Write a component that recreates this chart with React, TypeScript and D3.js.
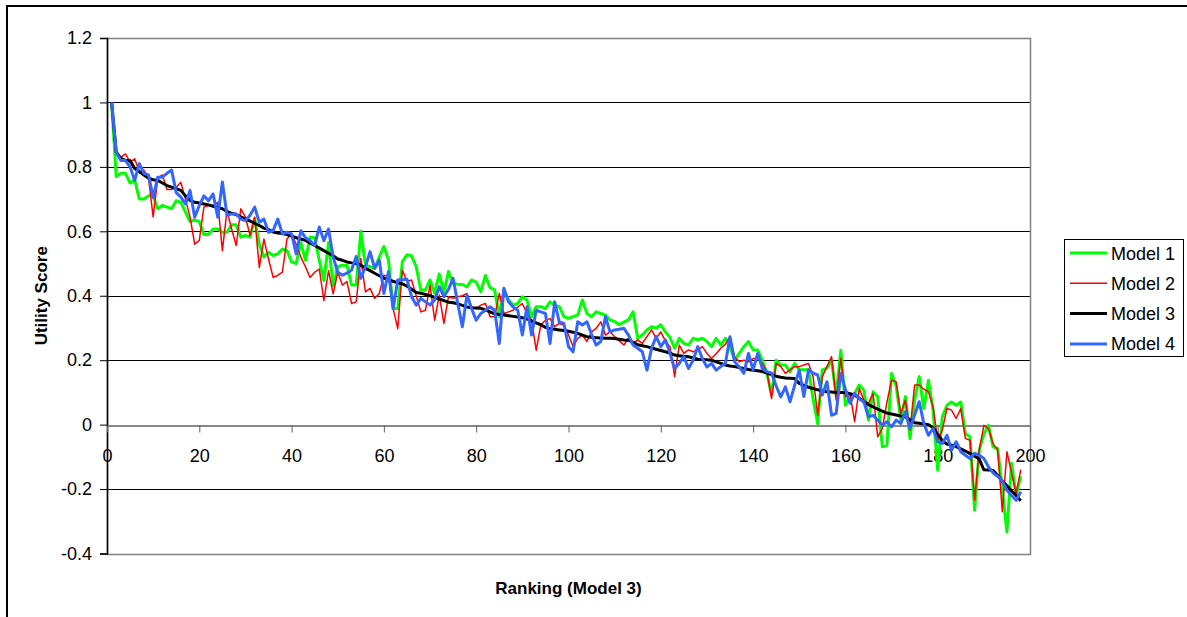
import React, { useEffect, useRef } from "react";
import * as d3 from "d3";

// rank 1..198, series
const model1 = [
  1.0, 0.77, 0.78, 0.78, 0.75, 0.76, 0.7, 0.7, 0.71, 0.71,
  0.67, 0.68, 0.675, 0.67, 0.695, 0.69, 0.66, 0.63, 0.635, 0.63,
  0.59, 0.59, 0.607, 0.607, 0.597, 0.597, 0.62, 0.62, 0.582, 0.587,
  0.582, 0.64, 0.56, 0.52, 0.535, 0.525, 0.53, 0.545, 0.54, 0.505,
  0.5, 0.565, 0.51, 0.582, 0.58, 0.51, 0.447, 0.565, 0.43, 0.49,
  0.495, 0.495, 0.433, 0.433, 0.6, 0.495, 0.49, 0.485, 0.52, 0.553,
  0.511, 0.36, 0.36, 0.506, 0.527, 0.524, 0.49, 0.418, 0.418, 0.449,
  0.408, 0.468, 0.41, 0.475, 0.438, 0.436, 0.435, 0.428, 0.449, 0.442,
  0.413, 0.463, 0.425, 0.418, 0.335, 0.418, 0.387, 0.371, 0.376, 0.397,
  0.387, 0.335, 0.366, 0.366, 0.36, 0.381, 0.37, 0.366, 0.335, 0.33,
  0.335, 0.34, 0.387, 0.345, 0.335, 0.35, 0.345, 0.34, 0.325, 0.32,
  0.31, 0.318, 0.325, 0.35, 0.268, 0.278, 0.294, 0.304, 0.299, 0.31,
  0.288, 0.27, 0.237, 0.268, 0.252, 0.247, 0.268, 0.263, 0.268, 0.258,
  0.242, 0.268, 0.247, 0.268, 0.24, 0.2, 0.221, 0.242, 0.258, 0.232,
  0.232, 0.2, 0.159, 0.092, 0.2, 0.185, 0.185, 0.164, 0.19, 0.17,
  0.17, 0.17, 0.08, 0.003, 0.17, 0.175, 0.2, 0.09, 0.231, 0.06,
  0.087, 0.097, 0.123, 0.107, 0.014, 0.102, 0.087, -0.069, -0.064, 0.159,
  0.12, 0.014, 0.087, -0.043, 0.076, 0.149, 0.05, 0.138, 0.045, -0.141,
  0.024, 0.06, 0.07, 0.06, 0.07, -0.028, -0.038, -0.266, -0.079, -0.03,
  -0.002, -0.069, -0.074, -0.2, -0.333, -0.12, -0.22, -0.16,
];

const model2 = [
  1.0, 0.84, 0.83, 0.84, 0.815, 0.825, 0.785, 0.79, 0.765, 0.645,
  0.765, 0.775, 0.73, 0.73, 0.737, 0.752, 0.7, 0.644, 0.56, 0.572,
  0.675, 0.68, 0.68, 0.69, 0.54, 0.665, 0.607, 0.556, 0.67, 0.644,
  0.587, 0.644, 0.488, 0.576, 0.514, 0.457, 0.463, 0.473, 0.576, 0.592,
  0.56, 0.52, 0.49, 0.457, 0.473, 0.483, 0.385, 0.478, 0.406, 0.473,
  0.433, 0.444, 0.376, 0.381, 0.516, 0.412, 0.423, 0.392, 0.407, 0.464,
  0.459, 0.36, 0.298, 0.48, 0.444, 0.449, 0.4, 0.35, 0.355, 0.433,
  0.324, 0.402, 0.314, 0.397, 0.392, 0.397, 0.4, 0.407, 0.366, 0.36,
  0.371, 0.376, 0.335, 0.335, 0.407, 0.345, 0.35, 0.355, 0.365, 0.376,
  0.345, 0.324, 0.231, 0.309, 0.324, 0.329, 0.304, 0.314, 0.309, 0.278,
  0.242, 0.268, 0.278, 0.258, 0.288, 0.299, 0.319, 0.278, 0.288, 0.273,
  0.26, 0.247, 0.268, 0.252, 0.263, 0.252, 0.273, 0.294, 0.268, 0.288,
  0.26, 0.242, 0.149, 0.247, 0.221, 0.232, 0.226, 0.232, 0.242, 0.221,
  0.205, 0.22, 0.237, 0.25, 0.273, 0.21, 0.195, 0.2, 0.195, 0.205,
  0.205, 0.19, 0.164, 0.081, 0.19, 0.18, 0.159, 0.17, 0.18, 0.18,
  0.185, 0.19, 0.149, 0.029, 0.149, 0.18, 0.211, 0.076, 0.206, 0.087,
  0.097, 0.009, 0.112, 0.076, 0.066, 0.097, -0.038, -0.012, 0.07, 0.138,
  0.133, 0.035, 0.076, -0.017, 0.123, 0.123, 0.11, 0.102, 0.055, -0.048,
  -0.017, 0.05, 0.045, 0.019, 0.05, -0.043, -0.048, -0.235, -0.079, -0.002,
  -0.012, -0.059, -0.079, -0.27, -0.084, -0.15, -0.214, -0.14,
];

const model3 = [
  1.0, 0.846, 0.826, 0.82, 0.82, 0.795, 0.785, 0.775, 0.765, 0.76,
  0.758, 0.75, 0.742, 0.737, 0.732, 0.727, 0.71, 0.696, 0.69, 0.688,
  0.685, 0.682, 0.678, 0.674, 0.67, 0.662, 0.656, 0.652, 0.645, 0.638,
  0.632, 0.625, 0.618, 0.61, 0.605, 0.598, 0.595, 0.593, 0.59, 0.585,
  0.58, 0.576, 0.572, 0.564, 0.556, 0.548, 0.54, 0.532, 0.524, 0.514,
  0.51, 0.505, 0.502, 0.5, 0.495, 0.485, 0.478, 0.47, 0.462, 0.455,
  0.449, 0.445, 0.44, 0.437, 0.43, 0.42, 0.41, 0.408, 0.404, 0.4,
  0.395, 0.39, 0.385, 0.38, 0.378, 0.375, 0.37, 0.365, 0.363, 0.362,
  0.361, 0.356, 0.35, 0.344, 0.342, 0.34, 0.338, 0.336, 0.334, 0.332,
  0.328, 0.322, 0.316, 0.31, 0.302, 0.298, 0.296, 0.294, 0.292, 0.29,
  0.287, 0.283, 0.278, 0.273, 0.271, 0.27, 0.269, 0.268, 0.268, 0.267,
  0.265, 0.263, 0.262, 0.255, 0.248, 0.245, 0.242, 0.238, 0.234, 0.23,
  0.226, 0.222, 0.216, 0.214, 0.212, 0.211, 0.207, 0.203, 0.202, 0.201,
  0.2, 0.195, 0.19, 0.185, 0.182, 0.18, 0.177, 0.174, 0.171, 0.169,
  0.167, 0.165, 0.16, 0.155, 0.15, 0.147, 0.145, 0.144, 0.143, 0.128,
  0.122, 0.116, 0.112, 0.108, 0.105, 0.102, 0.101, 0.1, 0.1, 0.1,
  0.096, 0.092, 0.082, 0.071, 0.062, 0.055, 0.048, 0.042, 0.036, 0.033,
  0.03, 0.027, 0.024, 0.015, 0.006, 0.004, 0.002, 0.0, -0.01, -0.03,
  -0.05, -0.06, -0.064, -0.068, -0.075, -0.082, -0.09, -0.098, -0.107, -0.14,
  -0.141, -0.142, -0.158, -0.175, -0.19, -0.205, -0.22, -0.236,
];

const model4 = [
  1.0, 0.845, 0.82, 0.82, 0.8, 0.758, 0.81, 0.78, 0.775, 0.705,
  0.768, 0.768, 0.78, 0.79, 0.72, 0.706, 0.685, 0.727, 0.644, 0.68,
  0.71, 0.695, 0.716, 0.644, 0.753, 0.65, 0.654, 0.654, 0.638, 0.633,
  0.65, 0.675, 0.628, 0.638, 0.597, 0.602, 0.638, 0.592, 0.597, 0.592,
  0.53, 0.602, 0.58, 0.571, 0.556, 0.613, 0.571, 0.607, 0.52, 0.473,
  0.464, 0.47, 0.48, 0.522, 0.454, 0.49, 0.537, 0.485, 0.511, 0.407,
  0.475, 0.36, 0.449, 0.45, 0.451, 0.397, 0.371, 0.392, 0.381, 0.371,
  0.387, 0.428, 0.397, 0.42, 0.454, 0.376, 0.304, 0.402, 0.36, 0.324,
  0.345, 0.355, 0.366, 0.355, 0.252, 0.423, 0.381, 0.365, 0.355, 0.278,
  0.366, 0.278, 0.355, 0.35, 0.345, 0.252, 0.381, 0.319, 0.314, 0.242,
  0.226, 0.319, 0.309, 0.319, 0.28, 0.247, 0.258, 0.335, 0.288, 0.294,
  0.296, 0.299, 0.278, 0.247, 0.237, 0.226, 0.169, 0.237, 0.273, 0.242,
  0.263, 0.221, 0.174, 0.19, 0.211, 0.174, 0.2, 0.242, 0.205, 0.179,
  0.19, 0.169, 0.18, 0.19, 0.273, 0.195, 0.179, 0.159, 0.221, 0.169,
  0.221, 0.174, 0.164, 0.16, 0.12, 0.086, 0.117, 0.071, 0.122, 0.169,
  0.087, 0.17, 0.16, 0.154, 0.092, 0.133, 0.029, 0.035, 0.159, 0.11,
  0.066, 0.097, 0.08, 0.071, 0.024, 0.029, 0.014, -0.002, 0.009, -0.007,
  0.014, 0.003, 0.04, -0.012, 0.03, 0.071, 0.003, -0.033, -0.012, -0.053,
  -0.059, -0.033, -0.079, -0.053, -0.084, -0.095, -0.105, -0.089, -0.095, -0.105,
  -0.131, -0.15, -0.16, -0.175, -0.204, -0.22, -0.235, -0.208,
];

const seriesNames = ["Model 1", "Model 2", "Model 3", "Model 4"];
const seriesColors = ["#00ff00", "#ff0000", "#000000", "#3366ff"];
const seriesWidths = [3, 1.5, 3, 3];
const xTicks = [0, 20, 40, 60, 80, 100, 120, 140, 160, 180, 200];
const yTicks = [-0.4, -0.2, 0, 0.2, 0.4, 0.6, 0.8, 1, 1.2];

const FONT = "'Liberation Sans', Arial, sans-serif";

const App = () => {
  const chartRef = useRef<SVGSVGElement>(null);

  useEffect(() => {
    const width = 1187;
    const height = 617;
    const plot = { left: 107, right: 1030, top: 38, bottom: 553.5 };

    const svg = d3
      .select(chartRef.current)
      .attr("width", width)
      .attr("height", height);
    svg.selectAll("*").remove();

    svg.append("rect").attr("width", width).attr("height", height).attr("fill", "#fff");

    // chart frame (runs off the right and bottom edges)
    svg
      .append("rect")
      .attr("x", 7)
      .attr("y", 6)
      .attr("width", 1300)
      .attr("height", 700)
      .attr("fill", "none")
      .attr("stroke", "#000")
      .attr("stroke-width", 2);

    const x = d3.scaleLinear().domain([0, 200]).range([plot.left, plot.right]);
    const y = d3.scaleLinear().domain([-0.4, 1.2]).range([plot.bottom, plot.top]);

    // gridlines
    svg
      .append("g")
      .selectAll("line")
      .data(yTicks.filter((d) => d !== 0 && d !== -0.4 && d !== 1.2))
      .enter()
      .append("line")
      .attr("x1", plot.left)
      .attr("x2", plot.right)
      .attr("y1", (d) => Math.round(y(d)) + 0.5)
      .attr("y2", (d) => Math.round(y(d)) + 0.5)
      .attr("stroke", "#000")
      .attr("stroke-width", 1);

    // plot area border
    svg
      .append("rect")
      .attr("x", plot.left + 0.5)
      .attr("y", Math.round(y(1.2)) + 0.5)
      .attr("width", plot.right - plot.left)
      .attr("height", Math.round(y(-0.4)) - Math.round(y(1.2)))
      .attr("fill", "none")
      .attr("stroke", "#808080")
      .attr("stroke-width", 1.5);

    // y axis
    const yAxis = svg
      .append("g")
      .attr("transform", `translate(${plot.left},0)`)
      .call(
        d3
          .axisLeft(y)
          .tickValues(yTicks)
          .tickSize(7)
          .tickPadding(8)
          .tickFormat((d) => String(+(+d).toFixed(1)))
      );
    yAxis.select(".domain").attr("stroke", "#000").attr("stroke-width", 1.5);
    yAxis.selectAll(".tick line").attr("stroke", "#000");
    yAxis
      .selectAll("text")
      .attr("font-family", FONT)
      .attr("font-size", 18)
      .attr("fill", "#000");

    // x axis on the zero line
    const xAxis = svg
      .append("g")
      .attr("transform", `translate(0,${Math.round(y(0)) + 0.5})`)
      .call(
        d3
          .axisBottom(x)
          .tickValues(xTicks)
          .tickSize(7)
          .tickPadding(17)
          .tickSizeOuter(0)
          .tickFormat((d) => String(d))
      );
    xAxis.select(".domain").attr("stroke", "#606060").attr("stroke-width", 1.5);
    xAxis.selectAll(".tick line").attr("stroke", "#606060");
    xAxis
      .selectAll("text")
      .attr("font-family", FONT)
      .attr("font-size", 18)
      .attr("fill", "#000");

    // series
    const data = [model1, model2, model3, model4];
    const line = d3
      .line<number>()
      .x((_, i) => x(i + 1))
      .y((d) => y(d));

    data.forEach((values, k) => {
      svg
        .append("path")
        .datum(values)
        .attr("fill", "none")
        .attr("stroke", seriesColors[k])
        .attr("stroke-width", seriesWidths[k])
        .attr("stroke-linejoin", "round")
        .attr("d", line);
    });

    // axis titles
    svg
      .append("text")
      .attr("transform", `translate(47,${(plot.top + plot.bottom) / 2}) rotate(-90)`)
      .attr("text-anchor", "middle")
      .attr("font-family", FONT)
      .attr("font-size", 17)
      .attr("font-weight", "bold")
      .text("Utility Score");

    svg
      .append("text")
      .attr("x", (plot.left + plot.right) / 2)
      .attr("y", 594)
      .attr("text-anchor", "middle")
      .attr("font-family", FONT)
      .attr("font-size", 17)
      .attr("font-weight", "bold")
      .text("Ranking (Model 3)");

    // legend
    const legend = svg.append("g").attr("transform", "translate(1064,239)");
    legend
      .append("rect")
      .attr("x", 0.5)
      .attr("y", 0.5)
      .attr("width", 119)
      .attr("height", 117)
      .attr("fill", "#fff")
      .attr("stroke", "#000")
      .attr("stroke-width", 1);

    seriesNames.forEach((name, k) => {
      const cy = 14 + k * 30.3;
      legend
        .append("line")
        .attr("x1", 6)
        .attr("x2", 43)
        .attr("y1", cy)
        .attr("y2", cy)
        .attr("stroke", seriesColors[k])
        .attr("stroke-width", seriesWidths[k]);
      legend
        .append("text")
        .attr("x", 47)
        .attr("y", cy + 6.5)
        .attr("font-family", FONT)
        .attr("font-size", 18)
        .attr("fill", "#000")
        .text(name);
    });
  }, []);

  return (
    <div style={{ position: "absolute", left: 0, top: 0 }}>
      <svg ref={chartRef}></svg>
    </div>
  );
};

export default App;
